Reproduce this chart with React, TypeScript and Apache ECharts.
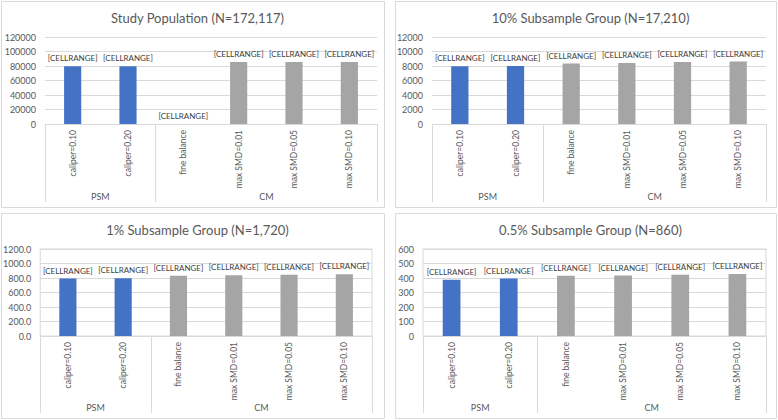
import React, { useEffect, useRef } from "react";
import * as echarts from "echarts";

const categories = [
  "caliper=0.10",
  "caliper=0.20",
  "fine balance",
  "max SMD=0.01",
  "max SMD=0.05",
  "max SMD=0.10",
];
const groupNames = ["PSM", "CM"];
const groupSizes = [2, 4];

const titles = [
  "Study Population (N=172,117)",
  "10% Subsample Group (N=17,210)",
  "1% Subsample Group (N=1,720)",
  "0.5% Subsample Group (N=860)",
];

const studyValues = [79700, 79800, 0, 85600, 85600, 85650];
const tenPctValues = [7970, 7990, 8340, 8430, 8560, 8610];
const onePctValues = [792, 798, 832, 838, 846, 852];
const halfPctValues = [388, 396, 416, 417, 423, 428];

const yMaxes = [120000, 12000, 1200, 600];
const ySteps = [20000, 2000, 200, 100];
const yDecimals = [0, 0, 1, 0];

const FONT = "Lato, 'Noto Sans', sans-serif";
const TEXT = "#595959";
const LINE = "#d9d9d9";
const BLUE = "#4472C4";
const GREY = "#A5A5A5";

// panel frames and plot areas (layout only)
const panels = [
  { x: 1, y: 1, w: 383, h: 206, gl: 45, gw: 332, gt: 37, gh: 87, tx: 192.5, ty: 6, tick: 78, border: false },
  { x: 395, y: 1, w: 381, h: 206, gl: 432, gw: 334, gt: 37, gh: 87, tx: 585.5, ty: 6, tick: 78, border: false },
  { x: 1, y: 213, w: 383, h: 205, gl: 40, gw: 332, gt: 249, gh: 87, tx: 192.5, ty: 218, tick: 77, border: true },
  { x: 395, y: 213, w: 381, h: 205, gl: 423, gw: 343, gt: 249, gh: 87, tx: 585.5, ty: 218, tick: 77, border: true },
];

export default function App() {
  const ref = useRef<HTMLDivElement>(null);
  useEffect(() => {
    document.body.style.margin = "0";
    if (!ref.current) return;
    const chart = echarts.init(ref.current, undefined, { renderer: "svg" });
    const allValues = [studyValues, tenPctValues, onePctValues, halfPctValues];
    const total = groupSizes.reduce((a, b) => a + b, 0);
    const groupCenters: number[] = [];
    let acc = 0;
    groupSizes.forEach((s) => {
      groupCenters.push(acc + s / 2);
      acc += s;
    });

    const option: any = {
      animation: false,
      backgroundColor: "#ffffff",
      textStyle: { fontFamily: FONT },
      title: panels.map((p, i) => ({
        text: titles[i],
        left: p.tx,
        top: p.ty,
        textAlign: "center",
        textStyle: { fontFamily: FONT, fontSize: 13, fontWeight: "normal", color: TEXT },
      })),
      graphic: panels.map((p) => ({
        type: "rect",
        silent: true,
        z: -10,
        shape: { x: p.x + 0.5, y: p.y + 0.5, width: p.w, height: p.h },
        style: { fill: "#ffffff", stroke: LINE, lineWidth: 1 },
      })),
      grid: panels.map((p) => ({
        left: p.gl,
        top: p.gt,
        width: p.gw,
        height: p.gh,
        show: p.border,
        borderColor: LINE,
        borderWidth: 1,
        backgroundColor: "transparent",
        containLabel: false,
      })),
      xAxis: [
        ...panels.map((p, i) => ({
          type: "category",
          gridIndex: i,
          data: categories,
          axisLine: { show: true, lineStyle: { color: LINE, width: 1 } },
          axisTick: {
            show: true,
            length: p.tick,
            interval: (idx: number) => idx === 0 || idx === groupSizes[0],
            lineStyle: { color: LINE, width: 1 },
          },
          axisLabel: {
            interval: 0,
            rotate: 90,
            margin: 6,
            fontSize: 8.5,
            color: TEXT,
            fontFamily: FONT,
          },
          splitLine: { show: false },
        })),
        ...panels.map((p, i) => ({
          type: "value",
          gridIndex: i,
          position: "bottom",
          min: 0,
          max: total,
          interval: 0.5,
          offset: p.tick - 10,
          axisLine: { show: false },
          axisTick: { show: false },
          splitLine: { show: false },
          axisLabel: {
            margin: 0,
            fontSize: 9,
            color: TEXT,
            fontFamily: FONT,
            showMinLabel: true,
            showMaxLabel: true,
            formatter: (v: number) => {
              const k = groupCenters.findIndex((c) => Math.abs(c - v) < 1e-6);
              return k >= 0 ? groupNames[k] : "";
            },
          },
        })),
      ],
      yAxis: panels.map((p, i) => ({
        type: "value",
        gridIndex: i,
        min: 0,
        max: yMaxes[i],
        interval: ySteps[i],
        axisLine: { show: false },
        axisTick: { show: false },
        splitLine: { show: true, lineStyle: { color: LINE, width: 1 } },
        axisLabel: {
          margin: 9,
          fontSize: 9,
          color: TEXT,
          fontFamily: FONT,
          formatter: (v: number) => v.toFixed(yDecimals[i]),
        },
      })),
      series: allValues.map((vals, i) => ({
        type: "bar",
        xAxisIndex: i,
        yAxisIndex: i,
        barWidth: "31%",
        data: vals.map((v, k) => ({
          value: v,
          itemStyle: { color: k < groupSizes[0] ? BLUE : GREY },
        })),
        label: {
          show: true,
          position: "top",
          distance: 4,
          formatter: "[CELLRANGE]",
          fontSize: 8,
          color: "#404040",
          fontFamily: FONT,
        },
      })),
    };
    chart.setOption(option);
    return () => chart.dispose();
  }, []);
  return <div ref={ref} style={{ width: 778, height: 420 }} />;
}
